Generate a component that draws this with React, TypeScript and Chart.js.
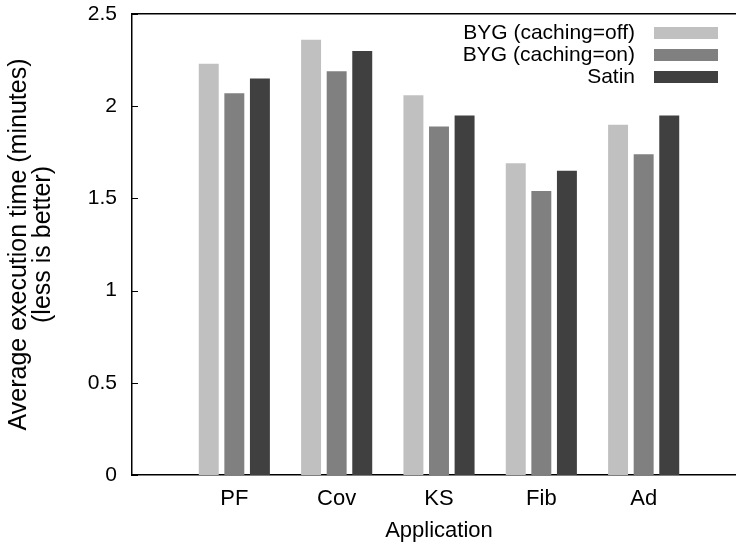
import React, { useEffect, useRef } from 'react';
import { Chart, registerables } from 'chart.js';

Chart.register(...registerables);

const CATEGORIES = ['PF', 'Cov', 'KS', 'Fib', 'Ad'];
const SERIES_NAMES = ['BYG (caching=off)', 'BYG (caching=on)', 'Satin'];
const CACHING_OFF = [2.23, 2.36, 2.06, 1.69, 1.9];
const CACHING_ON = [2.07, 2.19, 1.89, 1.54, 1.74];
const SATIN = [2.15, 2.3, 1.95, 1.65, 1.95];
const SERIES_VALUES = [CACHING_OFF, CACHING_ON, SATIN];
const COLORS = ['#c0c0c0', '#808080', '#404040'];
const Y_TITLE = ['Average execution time (minutes)', '(less is better)'];
const X_TITLE = 'Application';

const FONT = '"Liberation Sans", Arial, Helvetica, sans-serif';
const FS = 21;

const decor = {
  id: 'gnuplotDecor',
  afterDraw(chart: any) {
    const ctx = chart.ctx;
    const y = chart.scales.y;
    const area = chart.chartArea;
    ctx.save();
    ctx.strokeStyle = '#000';
    ctx.lineWidth = 1;
    y.ticks.forEach((_t: any, i: number) => {
      const py = Math.round(y.getPixelForTick(i)) + 0.5;
      ctx.beginPath();
      ctx.moveTo(area.left, py);
      ctx.lineTo(area.left + 6, py);
      ctx.stroke();
    });
    ctx.font = `${FS}px ${FONT}`;
    ctx.textAlign = 'right';
    ctx.textBaseline = 'middle';
    chart.data.datasets.forEach((ds: any, i: number) => {
      const cy = 33 + 22 * i;
      ctx.fillStyle = '#000';
      ctx.fillText(ds.label, 635, cy);
      ctx.fillStyle = ds.backgroundColor;
      ctx.fillRect(654, cy - 6, 64, 12);
    });
    ctx.restore();
  },
};

export default function App() {
  const ref = useRef<HTMLCanvasElement>(null);
  useEffect(() => {
    if (!ref.current) return;
    Chart.defaults.font.family = FONT;
    const font = { family: FONT, size: FS };
    const chart = new Chart(ref.current, {
      type: 'bar',
      data: {
        datasets: SERIES_VALUES.map((vals, s) => ({
          label: SERIES_NAMES[s],
          data: CATEGORIES.map((_c, i) => ({ x: i, y: vals[i] })),
          backgroundColor: COLORS[s],
          borderWidth: 0,
          categoryPercentage: 0.75,
          barPercentage: 0.78,
        })),
      },
      options: {
        animation: false,
        responsive: false,
        layout: { padding: 0 },
        plugins: { legend: { display: false }, tooltip: { enabled: false } },
        scales: {
          x: {
            type: 'linear',
            min: -1,
            max: 5,
            offset: false,
            grid: { display: false, drawTicks: false },
            border: { display: true, color: '#000', width: 1.5 },
            ticks: {
              stepSize: 1,
              autoSkip: false,
              maxRotation: 0,
              padding: 11,
              color: '#000',
              font: { family: FONT, size: 22 },
              callback: (v: any) => CATEGORIES[v] ?? '',
            },
            title: {
              display: true,
              text: X_TITLE,
              color: '#000',
              font: { family: FONT, size: 22 },
              padding: { top: 7, bottom: 5 },
            },
            afterFit: (s: any) => {
              s.height = 74;
              s.paddingLeft = 0;
              s.paddingRight = 0;
            },
          },
          x2: {
            type: 'linear',
            position: 'top',
            min: -1,
            max: 5,
            grid: { display: false, drawTicks: false },
            ticks: { display: false },
            border: { display: true, color: '#000', width: 1.5 },
            afterFit: (s: any) => {
              s.height = 14;
              s.paddingLeft = 0;
              s.paddingRight = 0;
            },
          },
          y: {
            min: 0,
            max: 2.5,
            grid: { display: false, drawTicks: false },
            border: { display: true, color: '#000', width: 1.5 },
            ticks: {
              stepSize: 0.5,
              padding: 15,
              color: '#000',
              font,
              callback: (v: any) => String(v),
            },
            title: {
              display: true,
              text: Y_TITLE,
              color: '#000',
              font: { family: FONT, size: 25, lineHeight: 0.95 },
              padding: { top: 7, bottom: 0 },
            },
            afterFit: (s: any) => {
              s.width = 132;
              s.paddingTop = 0;
              s.paddingBottom = 0;
            },
          },
        },
      },
      plugins: [decor],
    } as any);
    return () => chart.destroy();
  }, []);
  return (
    <div style={{ position: 'absolute', left: 0, top: 0, width: 736, height: 549, overflow: 'hidden', background: '#fff' }}>
      <canvas ref={ref} width={746} height={549} style={{ display: 'block', width: 746, height: 549 }} />
    </div>
  );
}
